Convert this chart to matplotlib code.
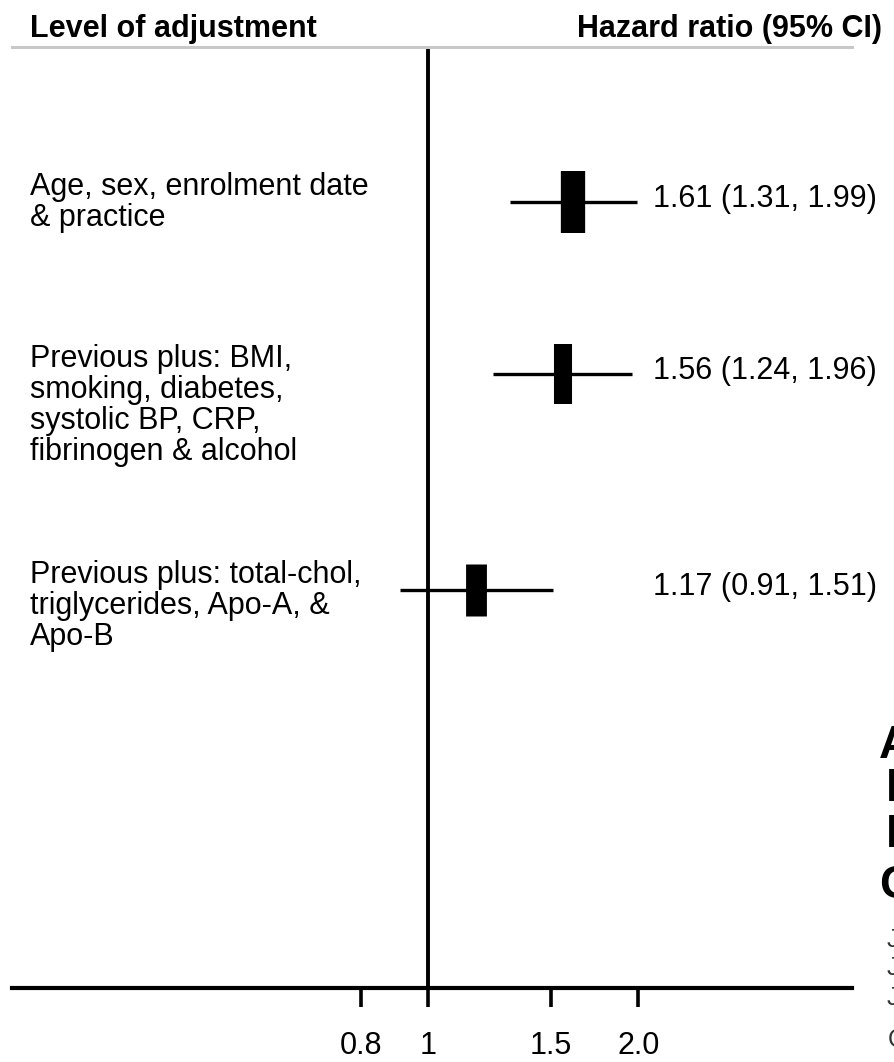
import numpy as np
import matplotlib
matplotlib.use("Agg")
import matplotlib.pyplot as plt
import matplotlib.ticker as ticker
from matplotlib import font_manager
from matplotlib.transforms import blended_transform_factory

# Hazard ratios by level of adjustment
labels = [
    "Age, sex, enrolment date\n& practice",
    "Previous plus: BMI,\nsmoking, diabetes,\nsystolic BP, CRP,\nfibrinogen & alcohol",
    "Previous plus: total-chol,\ntriglycerides, Apo-A, &\nApo-B",
]
hr = [1.61, 1.56, 1.17]
ci_low = [1.31, 1.24, 0.91]
ci_high = [1.99, 1.96, 1.51]
tick_vals = [0.8, 1, 1.5, 2.0]
tick_labels = ["0.8", "1", "1.5", "2.0"]

# layout (pixels from the top of the plotting area)
row_y = [155, 327, 543]
box_h = [62, 60, 52]
box_w = [17.5, 13, 15]  # points

W, H, DPI = 894, 1062, 100
BODY = "Liberation Sans"
installed = {f.name for f in font_manager.fontManager.ttflist}
if "Liberation Sans Narrow" in installed:
    HEAD, HEAD_SIZE = "Liberation Sans Narrow", 26
else:
    HEAD, HEAD_SIZE = "Liberation Sans", 22
FS = 22

fig = plt.figure(figsize=(W / DPI, H / DPI), dpi=DPI)
ax_l, ax_r, ax_t, ax_b = 12, 852, 47, 988
ax = fig.add_axes([ax_l / W, 1 - ax_b / H, (ax_r - ax_l) / W, (ax_b - ax_t) / H])
ax.set_xscale("log")
ax.set_xlim(0.253, 4.05)
ax.set_ylim(ax_b - ax_t, 0)

for s in ["left", "right"]:
    ax.spines[s].set_visible(False)
ax.spines["top"].set_color("#c8c8c8")
ax.spines["top"].set_linewidth(2.2)
ax.spines["bottom"].set_linewidth(3.0)

ax.xaxis.set_major_locator(ticker.FixedLocator(tick_vals))
ax.xaxis.set_major_formatter(ticker.FixedFormatter(tick_labels))
ax.xaxis.set_minor_locator(ticker.NullLocator())
ax.tick_params(axis="x", direction="out", length=14, width=2.6, pad=17,
               labelsize=FS)
ax.set_yticks([])
for t in ax.get_xticklabels():
    t.set_fontfamily(BODY)

ax.axvline(1, color="black", lw=2.8, zorder=1)

for i in range(len(hr)):
    y = row_y[i]
    ax.plot([ci_low[i], ci_high[i]], [y, y], color="black", lw=2.4,
            solid_capstyle="butt", zorder=2)
    ax.plot([hr[i], hr[i]], [y - box_h[i] / 2, y + box_h[i] / 2],
            color="black", lw=box_w[i], solid_capstyle="butt", zorder=3)

trans = blended_transform_factory(fig.transFigure, ax.transData)
for i, lab in enumerate(labels):
    ax.text(30 / W, row_y[i] - 30, lab, transform=trans, ha="left", va="top",
            fontsize=FS, family=BODY, linespacing=1.05)
    ax.text(653 / W, row_y[i] - 3,
            f"{hr[i]:.2f} ({ci_low[i]:.2f}, {ci_high[i]:.2f})",
            transform=trans, ha="left", va="center", fontsize=FS, family=BODY)

fig.text(30 / W, 1 - 29 / H, "Level of adjustment", ha="left", va="center",
         fontsize=HEAD_SIZE, family=HEAD, weight="bold")
fig.text(882 / W, 1 - 29 / H, "Hazard ratio (95% CI)", ha="right",
         va="center", fontsize=HEAD_SIZE, family=HEAD, weight="bold")

# neighbouring column text cut off at the right edge
for ch, x, y in [("A", 879, 746), ("R", 886, 789), ("P", 886, 835),
                 ("C", 879, 886)]:
    fig.text(x / W, 1 - y / H, ch, ha="left", va="center", fontsize=33,
             family=BODY, weight="bold")
for ch, x, y in [("J", 887, 940), ("J", 887, 968), ("J", 887, 998),
                 ("C", 888, 1040)]:
    fig.text(x / W, 1 - y / H, ch, ha="left", va="center", fontsize=18,
             family=BODY, color="#333333")

fig.savefig("out.png", dpi=DPI)
